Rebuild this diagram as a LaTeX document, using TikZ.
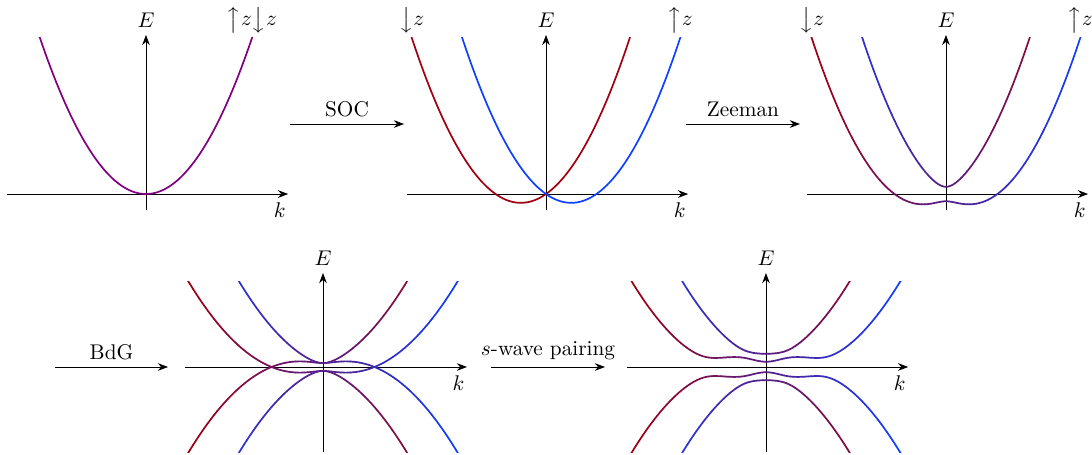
\documentclass[tikz,border=0pt]{standalone}
\usetikzlibrary{arrows.meta}
\definecolor{spindn}{HTML}{A00010}
\definecolor{spinup}{HTML}{1040FF}
\definecolor{spinmix}{HTML}{800080}

% band E(\x) coloured by its spin content, #2 = +1 upper / -1 lower band
\newcommand\gradband[2]{%
  \foreach \i in {-46,...,45}{
    \pgfmathsetmacro\qa{\i/20}
    \pgfmathsetmacro\qb{(\i+1)/20}
    \pgfmathsetmacro\w{max(0,min(100,50+50*(#2)*(\qa+0.025)/2.25))}
    \draw[band, color=spindn!\w!spinup] plot[domain=\qa:\qb, samples=4] (\x,{#1});
  }}

\begin{document}
\begin{tikzpicture}[
  axis/.style={-{Stealth}},
  trans/.style={-{Stealth}},
  band/.style={thick, line cap=round},
  spin/.style={above=2pt, inner sep=0pt},
  klabel/.style={below=4pt, inner sep=0pt, xshift=-4pt},
  declare function={
    xi(\q)=0.84*\q*\q;
    rs(\q)=sqrt(0.49*\q*\q+0.0144);
    bdg(\q,\s)=sqrt(xi(\q)*xi(\q)+0.49*\q*\q+0.0928
      +2*\s*sqrt(0.001129+xi(\q)*xi(\q)*(0.49*\q*\q+0.0144)));
  },
]
\useasboundingbox (0,0) rectangle (18.05,7.52);

%% free electrons
\begin{scope}[shift={(2.413,4.313)}]
  \draw[axis] (-2.30,0) -- (2.35,0) node[klabel] (k1) {$k$};
  \draw[axis] (0,-0.26) -- (0,2.63) node[above] (E1) {$E$};
  \begin{scope}
    \clip (-2.4,-1) rectangle (2.4,2.58);
    \draw[band, spinmix] plot[domain=-1.8:1.8, samples=80] (\x,{xi(\x)});
  \end{scope}
  \node[spin] (s1) at (1.75,2.58) {$\big\uparrow z\big\downarrow z$};
\end{scope}

%% spin-orbit coupling
\begin{scope}[shift={(9.025,4.313)}]
  \draw[axis] (-2.30,0) -- (2.35,0) node[klabel] (k2) {$k$};
  \draw[axis] (0,-0.26) -- (0,2.63) node[above] (E2) {$E$};
  \begin{scope}
    \clip (-2.4,-1) rectangle (2.4,2.58);
    \draw[band, spindn] plot[domain=-2.3:1.5, samples=80] (\x,{xi(\x)+0.7*\x});
    \draw[band, spinup] plot[domain=-1.5:2.3, samples=80] (\x,{xi(\x)-0.7*\x});
  \end{scope}
  \node[spin] (s2d) at (-2.22,2.58) {$\big\downarrow z$};
  \node[spin] (s2u) at (2.22,2.58) {$\big\uparrow z$};
\end{scope}

%% Zeeman field
\begin{scope}[shift={(15.636,4.313)}]
  \draw[axis] (-2.30,0) -- (2.35,0) node[klabel] (k3) {$k$};
  \draw[axis] (0,-0.26) -- (0,2.63) node[above] (E3) {$E$};
  \begin{scope}
    \clip (-2.4,-1) rectangle (2.4,2.58);
    \gradband{xi(\x)+rs(\x)}{1}
    \gradband{xi(\x)-rs(\x)}{-1}
  \end{scope}
  \node[spin] (s3d) at (-2.22,2.58) {$\big\downarrow z$};
  \node[spin] (s3u) at (2.22,2.58) {$\big\uparrow z$};
\end{scope}

%% BdG doubling
\begin{scope}[shift={(5.339,1.454)}, yscale=0.545]
  \draw[axis] (-2.28,0) -- (2.38,0) node[klabel] (k4) {$k$};
  \draw[axis] (0,-2.58) -- (0,2.85) node[above] (E4) {$E$};
  \begin{scope}
    \clip (-2.4,-2.58) rectangle (2.4,2.58);
    \gradband{xi(\x)+rs(\x)}{1}
    \gradband{xi(\x)-rs(\x)}{-1}
    \gradband{-xi(\x)-rs(\x)}{1}
    \gradband{-xi(\x)+rs(\x)}{-1}
  \end{scope}
\end{scope}

%% s-wave pairing
\begin{scope}[shift={(12.661,1.454)}, yscale=0.545]
  \draw[axis] (-2.30,0) -- (2.35,0) node[klabel] (k5) {$k$};
  \draw[axis] (0,-2.58) -- (0,2.85) node[above] (E5) {$E$};
  \begin{scope}
    \clip (-2.4,-2.58) rectangle (2.4,2.58);
    \gradband{bdg(\x,1)}{1}
    \gradband{bdg(\x,-1)}{-1}
    \gradband{-bdg(\x,1)}{1}
    \gradband{-bdg(\x,-1)}{-1}
  \end{scope}
\end{scope}

%% steps between the panels
\coordinate (soc-a) at (4.793,5.470);
\coordinate (soc-b) at (6.678,5.470);
\coordinate (zee-a) at (11.339,5.470);
\coordinate (zee-b) at (13.223,5.470);
\coordinate (bdg-a) at (0.909,1.454);
\coordinate (bdg-b) at (2.777,1.454);
\coordinate (pair-a) at (8.116,1.454);
\coordinate (pair-b) at (10.0,1.454);

\draw[trans] (soc-a) -- node[above] (soc) {SOC} (soc-b);
\draw[trans] (zee-a) -- node[above] (zee) {Zeeman} (zee-b);
\draw[trans] (bdg-a) -- node[above] (bdg) {BdG} (bdg-b);
\draw[trans] (pair-a) -- node[above] (pair) {$s$-wave pairing} (pair-b);

\end{tikzpicture}
\end{document}
